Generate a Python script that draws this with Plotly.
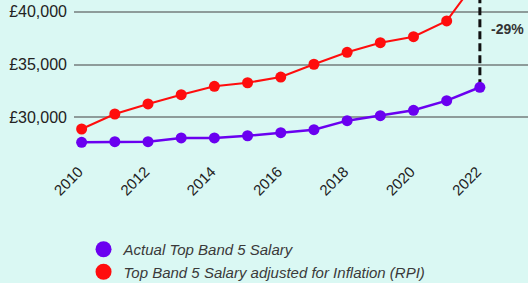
import plotly.graph_objects as go

years = [2010, 2011, 2012, 2013, 2014, 2015, 2016, 2017, 2018, 2019, 2020, 2021, 2022]
actual = [27640, 27700, 27700, 28050, 28050, 28260, 28550, 28830, 29690, 30160, 30670, 31580, 32850]
adjusted = [28900, 30320, 31270, 32150, 32940, 33280, 33820, 35030, 36160, 37070, 37640, 39130, 43400]
y_ticks = [30000, 35000, 40000]
y_tick_text = ["£30,000", "£35,000", "£40,000"]
x_ticks = [2010, 2012, 2014, 2016, 2018, 2020, 2022]
name_actual = "Actual Top Band 5 Salary"
name_adjusted = "Top Band 5 Salary adjusted for Inflation (RPI)"
gap_label = "-29%"

PURPLE = "#6a00f0"
RED = "#ff0d0d"
BG = "#daf8f3"

fig = go.Figure()
fig.add_trace(go.Scatter(
    x=[years[-1], years[-1]], y=[actual[-1], adjusted[-1]],
    mode="lines", line=dict(color="#111111", width=3, dash="8px,4px"),
    showlegend=False, hoverinfo="skip"))
fig.add_trace(go.Scatter(
    x=years, y=adjusted, mode="lines+markers",
    line=dict(color=RED, width=2), marker=dict(color=RED, size=11),
    showlegend=False))
fig.add_trace(go.Scatter(
    x=years, y=actual, mode="lines+markers",
    line=dict(color=PURPLE, width=2.5), marker=dict(color=PURPLE, size=11),
    showlegend=False))
# legend entries
fig.add_trace(go.Scatter(x=[None], y=[None], mode="markers", name=name_actual,
                         marker=dict(color=PURPLE, size=16)))
fig.add_trace(go.Scatter(x=[None], y=[None], mode="markers", name=name_adjusted,
                         marker=dict(color=RED, size=16)))

fig.add_annotation(x=years[-1], y=(actual[-1] + adjusted[-1]) / 2, xref="x", yref="y",
                   text=gap_label, showarrow=False, xanchor="left", xshift=9, yshift=3,
                   font=dict(family="Liberation Sans", size=14, color="#333333", weight="bold"))

fig.update_layout(
    width=528, height=283,
    margin=dict(l=74, r=0, t=0, b=128, pad=0, autoexpand=False),
    paper_bgcolor=BG, plot_bgcolor=BG,
    font=dict(family="Liberation Sans", color="#222222"),
    showlegend=True,
    legend=dict(x=0.021, xanchor="left", yref="container", y=0.1767, yanchor="top",
                font=dict(size=15, color="#3a3a3a", style="italic"),
                bgcolor="rgba(0,0,0,0)", tracegroupgap=0, itemsizing="trace"),
    xaxis=dict(range=[2009.77, 2023.45], tickvals=x_ticks, tickangle=-45,
               showgrid=False, zeroline=False, showline=False,
               ticklabelstandoff=4, ticklabelshift=-3, automargin=False,
               tickfont=dict(size=15, color="#222222")),
    yaxis=dict(range=[26437, 41115], tickvals=y_ticks, ticktext=y_tick_text,
               showgrid=True, gridcolor="#8e9c9a", gridwidth=2, zeroline=False,
               showline=False, ticklabelstandoff=6, automargin=False,
               tickfont=dict(size=16, color="#222222")),
)

fig.write_html("out.html", config={"displayModeBar": False},
               post_script="document.body.style.margin='0';document.body.style.padding='0';document.body.style.overflow='hidden';")
